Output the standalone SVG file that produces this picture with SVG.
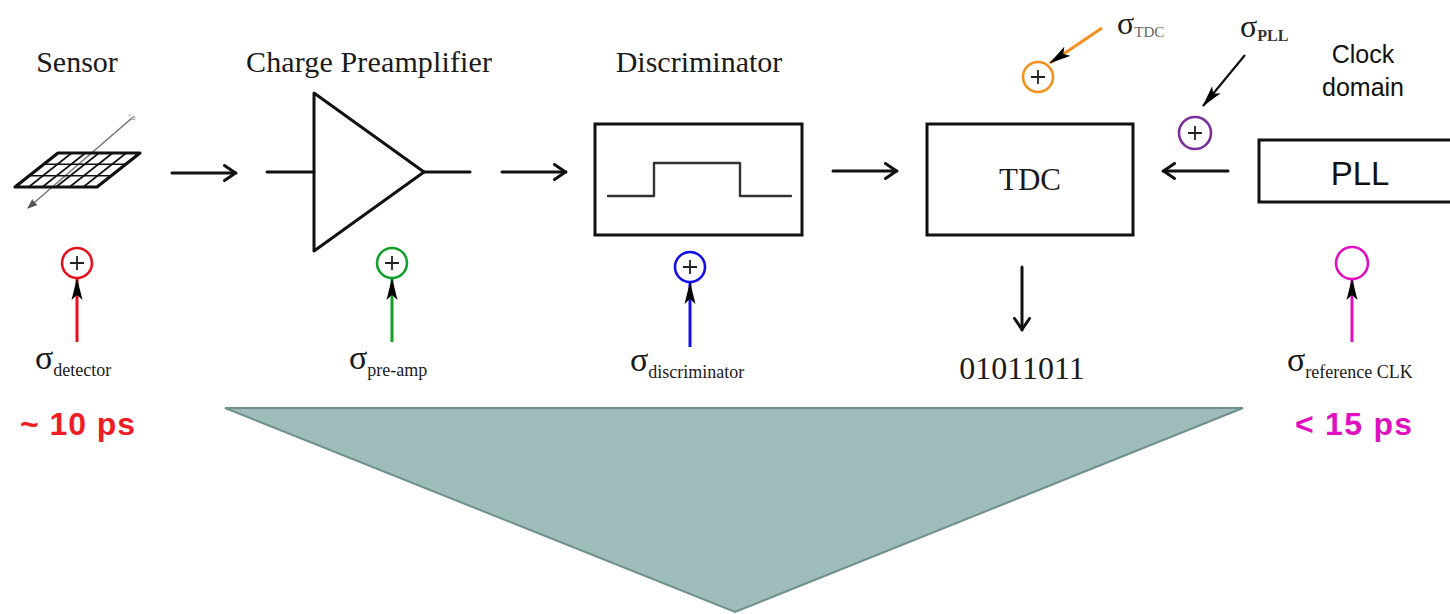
<svg xmlns="http://www.w3.org/2000/svg" width="1450" height="614" viewBox="0 0 1450 614">
  <style>
    .serif { font-family: "Liberation Serif", "Times New Roman", serif; fill: #1a1a1a; }
    .sans { font-family: "Liberation Sans", Arial, sans-serif; fill: #111; }
    .title { font-size: 30px; text-anchor: middle; }
    .sig { font-size: 34px; }
    .sub { font-size: 18px; }
    .box { fill: #fff; stroke: #111; stroke-width: 3; }
    .wire { fill: none; stroke: #111; stroke-width: 3; stroke-linecap: round; stroke-linejoin: round; }
    .flow { fill: none; stroke: #111; stroke-width: 3; stroke-linecap: round; marker-end: url(#chev); }
    .sum { fill: #fff; stroke-width: 2.6; }
    .plus { stroke: #222; stroke-width: 1.8; fill: none; }
    .inj { stroke-width: 3; fill: none; marker-end: url(#tip); }
    .ps { font-family: "Liberation Sans", Arial, sans-serif; font-weight: bold; font-size: 32px; }
  </style>
  <defs>
    <marker id="chev" viewBox="0 0 14 18" refX="13" refY="9" markerWidth="14" markerHeight="18" markerUnits="userSpaceOnUse" orient="auto">
      <path d="M1.5,1.5 L12.5,9 L1.5,16.5" fill="none" stroke="#111" stroke-width="3" stroke-linecap="round" stroke-linejoin="round"/>
    </marker>
    <marker id="tip" viewBox="0 0 22 12" refX="21" refY="6" markerWidth="22" markerHeight="12" markerUnits="userSpaceOnUse" orient="auto">
      <path d="M0,0.5 L22,6 L0,11.5 L5,6 Z" fill="#000"/>
    </marker>
    <marker id="thin" viewBox="0 0 10 8" refX="9" refY="4" markerWidth="10" markerHeight="8" markerUnits="userSpaceOnUse" orient="auto">
      <path d="M0,0 L10,4 L0,8 Z" fill="#555"/>
    </marker>
  </defs>

  <!-- output funnel -->
  <polygon points="225,408 1243,408 735,612" fill="#9ebcba" stroke="#6f908d" stroke-width="2"/>

  <!-- sensor -->
  <g id="sensor">
    <text class="serif title" x="77" y="72">Sensor</text>
    <line x1="132" y1="118" x2="28" y2="208" stroke="#777" stroke-width="1.6" marker-end="url(#thin)"/>
    <text x="128" y="120" font-family="Liberation Sans, sans-serif" font-size="8" fill="#888">°e</text>
    <g fill="none" stroke="#111">
      <line x1="71.7" y1="153" x2="28.7" y2="187" stroke-width="1.6"/>
      <line x1="85.4" y1="153" x2="42.4" y2="187" stroke-width="1.6"/>
      <line x1="99" y1="153" x2="56" y2="187" stroke-width="1.6"/>
      <line x1="112.6" y1="153" x2="69.6" y2="187" stroke-width="1.6"/>
      <line x1="126.3" y1="153" x2="83.3" y2="187" stroke-width="1.6"/>
      <line x1="43.7" y1="164.3" x2="125.7" y2="164.3" stroke-width="1.6"/>
      <line x1="29.3" y1="175.7" x2="111.3" y2="175.7" stroke-width="1.6"/>
      <polygon points="58,153 140,153 97,187 15,187" stroke-width="3.2" stroke-linejoin="round"/>
    </g>
  </g>

  <!-- charge preamplifier -->
  <g id="preamp">
    <text class="serif title" x="369" y="72" textLength="246">Charge Preamplifier</text>
    <line class="wire" x1="267" y1="172" x2="314" y2="172"/>
    <polygon class="wire" points="314,93 314,251 424,172" fill="#fff"/>
    <line class="wire" x1="424" y1="172" x2="470" y2="172"/>
  </g>

  <!-- discriminator -->
  <g id="discriminator">
    <text class="serif title" x="699" y="72">Discriminator</text>
    <rect class="box" x="595" y="124" width="207" height="111"/>
    <polyline fill="none" stroke="#333" stroke-width="2.4" stroke-linejoin="round" stroke-linecap="round" points="608,196 654,196 654,163 740,163 740,196 791,196"/>
  </g>

  <!-- TDC -->
  <g id="tdc">
    <rect class="box" x="927" y="124" width="206" height="111"/>
    <text class="serif" x="1030" y="190" font-size="31" text-anchor="middle">TDC</text>
  </g>

  <!-- PLL -->
  <g id="pll">
    <text class="sans" x="1363" y="63" font-size="25" text-anchor="middle">Clock</text>
    <text class="sans" x="1363" y="96" font-size="25" text-anchor="middle">domain</text>
    <rect class="box" x="1259" y="140" width="200" height="62"/>
    <text class="sans" x="1360" y="185" font-size="33" text-anchor="middle">PLL</text>
  </g>

  <!-- signal path connectors -->
  <g id="connectors">
    <line class="flow" x1="172" y1="173" x2="236" y2="173"/>
    <line class="flow" x1="502" y1="172" x2="566" y2="172"/>
    <line class="flow" x1="833" y1="171" x2="897" y2="171"/>
    <line class="flow" x1="1228" y1="171" x2="1163" y2="171"/>
    <line class="flow" x1="1022" y1="267" x2="1022" y2="330"/>
  </g>

  <!-- jitter contributions -->
  <g id="jitter-detector">
    <line class="inj" stroke="#e8101c" x1="77" y1="342" x2="77" y2="279"/>
    <circle class="sum" stroke="#e8101c" cx="77" cy="263" r="15"/>
    <path class="plus" d="M70,263 H84 M77,256 V270"/>
    <text class="serif sig" x="35" y="369">σ<tspan class="sub" dy="7">detector</tspan></text>
    <text class="ps" x="20" y="435" fill="#ee1c25" textLength="115">~ 10 ps</text>
  </g>

  <g id="jitter-preamp">
    <line class="inj" stroke="#12a02a" x1="392" y1="342" x2="392" y2="279"/>
    <circle class="sum" stroke="#12a02a" cx="392" cy="263" r="15"/>
    <path class="plus" d="M385,263 H399 M392,256 V270"/>
    <text class="serif sig" x="349" y="369">σ<tspan class="sub" dy="7">pre-amp</tspan></text>
  </g>

  <g id="jitter-discriminator">
    <line class="inj" stroke="#1410e8" x1="690" y1="347" x2="690" y2="283"/>
    <circle class="sum" stroke="#1410e8" cx="690" cy="267" r="15"/>
    <path class="plus" d="M683,267 H697 M690,260 V274"/>
    <text class="serif sig" x="630" y="371">σ<tspan class="sub" dy="7">discriminator</tspan></text>
  </g>

  <g id="jitter-tdc">
    <line class="inj" stroke="#f5901c" x1="1102" y1="28" x2="1050" y2="63"/>
    <circle class="sum" stroke="#f5901c" cx="1038" cy="77" r="15"/>
    <path class="plus" d="M1031,77 H1045 M1038,70 V84"/>
    <text class="serif" x="1117" y="34" font-size="32">σ<tspan font-size="15" fill="#666" dy="3">TDC</tspan></text>
  </g>

  <g id="jitter-pll">
    <line stroke="#111" stroke-width="2.2" marker-end="url(#tip)" x1="1245" y1="55" x2="1203" y2="106"/>
    <circle class="sum" stroke="#7a2f9c" cx="1195" cy="133" r="16"/>
    <path class="plus" d="M1188,133 H1202 M1195,126 V140"/>
    <text class="serif" x="1240" y="37" font-size="32">σ<tspan font-size="16" font-weight="bold" fill="#333" dy="4">PLL</tspan></text>
  </g>

  <g id="jitter-refclk">
    <line class="inj" stroke="#e010c0" x1="1352" y1="342" x2="1352" y2="279"/>
    <circle class="sum" stroke="#e010c0" cx="1352" cy="263" r="16"/>
    <text class="serif sig" x="1287" y="371">σ<tspan class="sub" dy="7">reference CLK</tspan></text>
    <text class="ps" x="1295" y="435" fill="#e010c0" textLength="117">&lt; 15 ps</text>
  </g>

  <!-- output word -->
  <g id="output">
    <text class="serif" x="1022" y="379" font-size="32" text-anchor="middle">01011011</text>
  </g>
</svg>
